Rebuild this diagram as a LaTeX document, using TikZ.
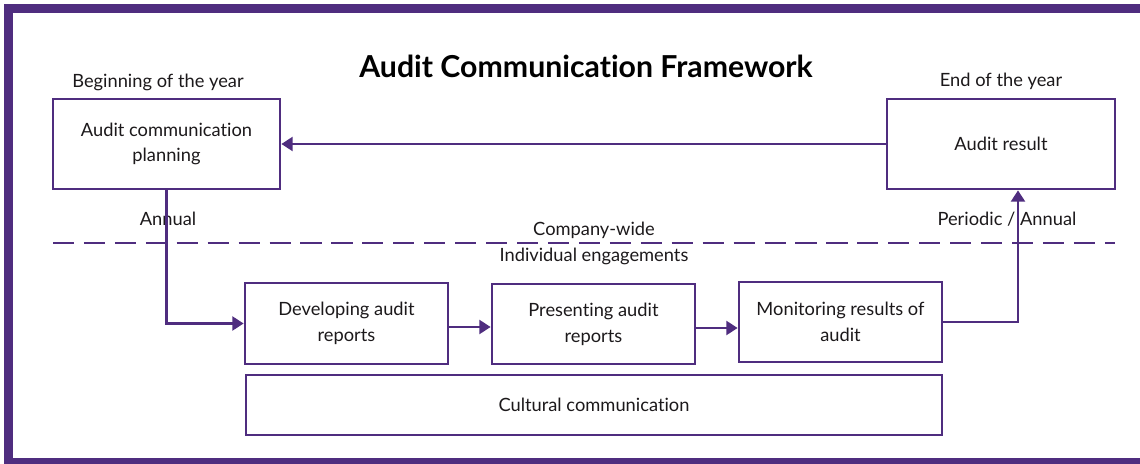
\documentclass[tikz,border=0pt]{standalone}
\usepackage{fontspec}
\setmainfont{Lato}[Ligatures={NoCommon}]
\usetikzlibrary{arrows.meta}

\newlength{\du}
\setlength{\du}{0.025cm}

\definecolor{gtpurple}{rgb}{0.310000, 0.176000, 0.498000}
\definecolor{labeltext}{rgb}{0.110000, 0.100000, 0.105000}

\tikzset{
  stagebox/.style={draw=gtpurple, line width=2pt, fill=white, align=center,
    text=labeltext, font=\fontsize{13}{18.4}\selectfont, inner sep=0pt},
  plainlabel/.style={text=labeltext, font=\fontsize{13}{15}\selectfont, inner sep=0pt},
  flow/.style={draw=gtpurple, line width=1.5pt, -{Triangle[length=8pt,width=10pt]}},
  divider/.style={draw=gtpurple, line width=2pt, dash pattern=on 15pt off 7pt},
  frameline/.style={draw=gtpurple, line width=6pt}
}

\begin{document}
\begin{tikzpicture}
\pgftransformyscale{-1.000000}
\useasboundingbox (0\du,0\du) rectangle (1140\du,464\du);
% outer frame, right side runs off the page
\draw[frameline] (1145\du,8.5\du)--(8.5\du,8.5\du)--(8.5\du,462.5\du)--(1145\du,462.5\du);
\node[text=black, font=\fontsize{21.5}{25}\selectfont\bfseries, inner sep=0pt] (title) at (586\du,66\du){Audit Communication Framework};
% company-wide level
\node[plainlabel] (begin) at (158\du,82\du){Beginning of the year};
\node[plainlabel] (finish) at (1001\du,81\du){End of the year};
\node[stagebox, minimum width=227\du, minimum height=90\du] (plan) at (166.5\du,144\du){Audit communication\\planning};
\node[stagebox, minimum width=228\du, minimum height=90\du] (result) at (1001\du,144\du){Audit result};
\node[plainlabel] (annual) at (168\du,219\du){Annual};
\node[plainlabel] (periodic) at (1007\du,219\du){Periodic / Annual};
\node[plainlabel] (company) at (594\du,230\du){Company-wide};
\node[plainlabel] (individual) at (594\du,256\du){Individual engagements};
\coordinate (divleft) at (53\du,243\du);
\coordinate (divright) at (1115\du,243\du);
\draw[divider] (divleft)--(divright);
% individual engagements level
\node[stagebox, minimum width=203\du, minimum height=81\du] (develop) at (346.5\du,323.5\du){Developing audit\\reports};
\node[stagebox, minimum width=203\du, minimum height=80\du] (present) at (593.5\du,324\du){Presenting audit\\reports};
\node[stagebox, minimum width=203\du, minimum height=80\du] (monitor) at (840.5\du,322\du){Monitoring results of\\audit};
\node[stagebox, minimum width=696\du, minimum height=60\du] (culture) at (594\du,405\du){Cultural communication};
\draw[flow] (result.west)--(plan.east);
\draw[flow] (plan.south)|-(develop.west);
\draw[flow] ([yshift=3.5\du]develop.east)--([yshift=3.5\du]develop.east -| present.west);
\draw[flow] ([yshift=4\du]present.east)--([yshift=4\du]present.east -| monitor.west);
\draw[flow] (monitor.east)-|([xshift=17\du]result.south);
\end{tikzpicture}
\end{document}
